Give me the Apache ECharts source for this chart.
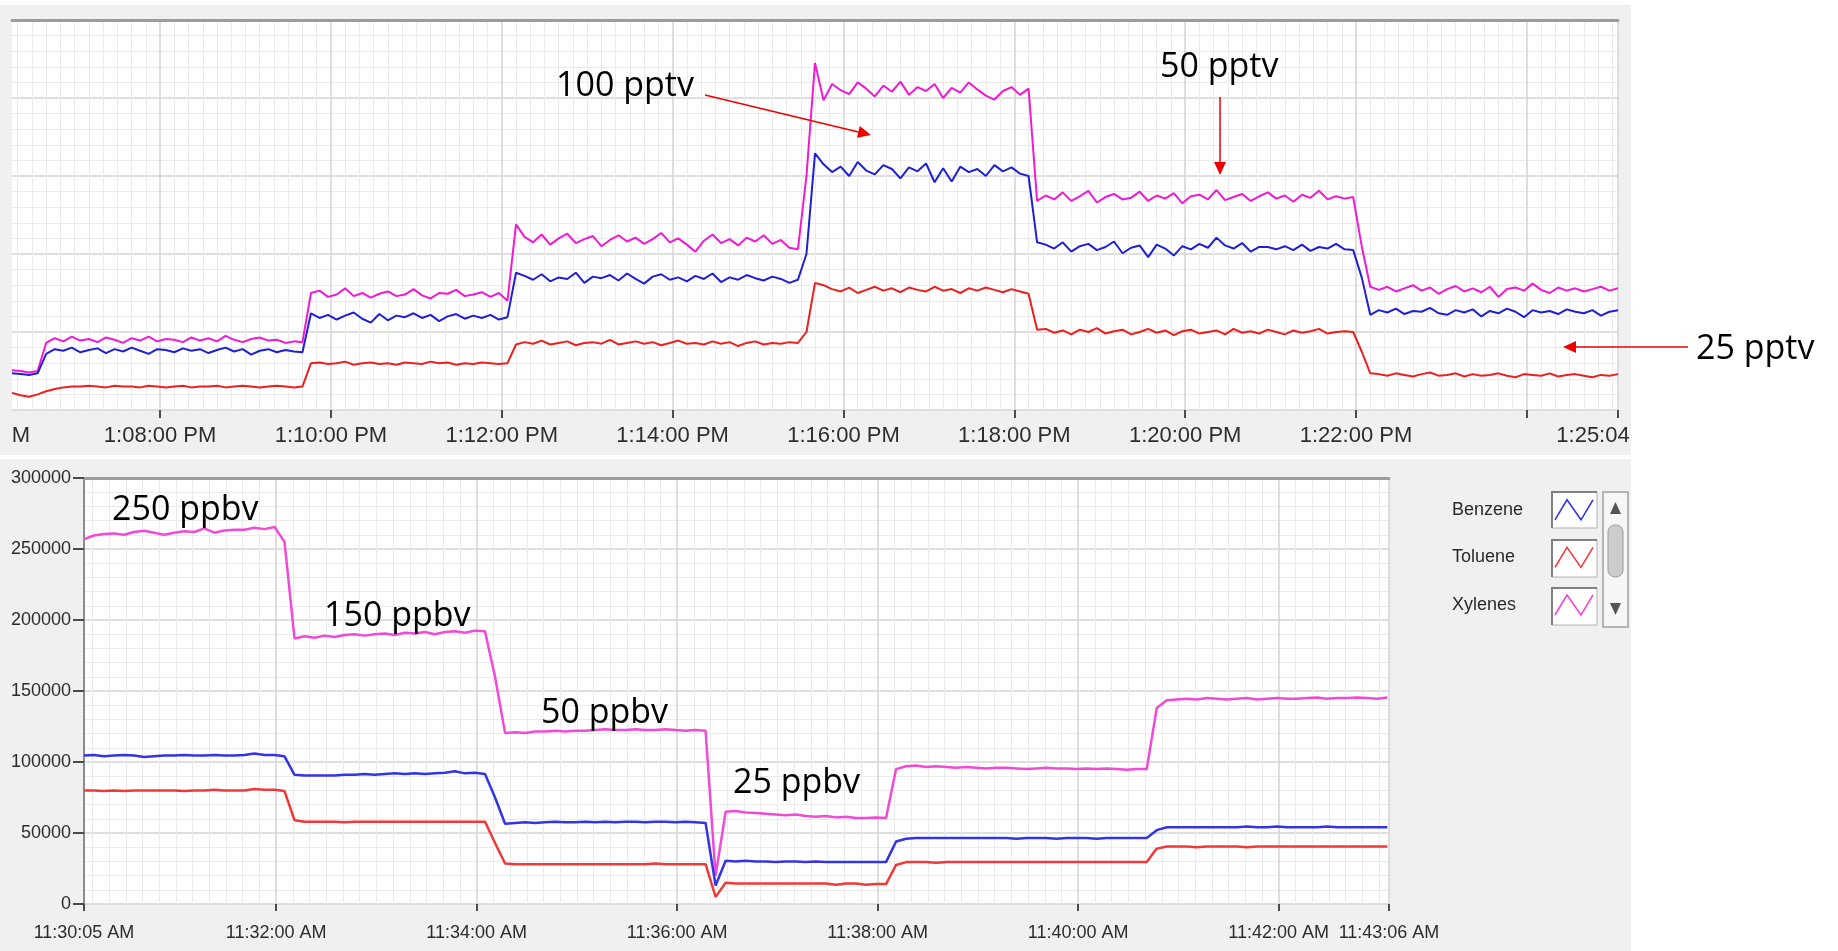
<!DOCTYPE html>
<html><head><meta charset="utf-8">
<script src="https://cdn.jsdelivr.net/npm/echarts@6/dist/echarts.min.js"></script>
<style>html,body{margin:0;padding:0;background:#fff}#chart{width:1838px;height:951px}</style>
</head><body><div id="chart"></div>
<script>
// ---------- TOP PANEL (pptv, arbitrary signal units, no y labels) ----------
const topStart = '13:06:16';
const topEnd = '13:25:04';
const topStepSec = 6;
const topTickTimes = ['13:08:00','13:10:00','13:12:00','13:14:00','13:16:00','13:18:00','13:20:00','13:22:00','13:24:00','13:25:04'];
const topLabelTimes = ['13:06:16','13:08:00','13:10:00','13:12:00','13:14:00','13:16:00','13:18:00','13:20:00','13:22:00','13:25:04'];
const topLabelTexts = ['M','1:08:00 PM','1:10:00 PM','1:12:00 PM','1:14:00 PM','1:16:00 PM','1:18:00 PM','1:20:00 PM','1:22:00 PM','1:25:04'];

const topXylenes = [51,50,48,50, 86,
 92,88,94,89,91,87,93,90,86,92, 89,94,88,91,90,87,93,89,92,88, 95,90,87,91,93,89,90,86,88,87,
 150,153,145,148,156,146,150,144,149,152, 146,148,155,147,143,150,149,154,146,148, 151,145,150,140,
 238,
 222,215,225,212,220,226,214,219,223,210, 218,224,216,221,213,219,227,215,220,212, 203,217,225,214,219,211,221,216,224,213, 218,208,206,
 300, 445,
 397,418,410,405,420,412,402,416,408,421, 404,414,409,418,400,413,407,420,411,403, 398,409,414,404,412,
 268,
 275,270,279,268,274,281,266,273,277,270, 272,280,268,275,271,278,265,274,276,270, 282,269,273,277,268,274,279,271,275,267, 276,272,281,270,274,271,273,
 210, 158,
 154,158,152,156,160,153,157,149,155,159, 152,156,151,158,145,155,157,153,162,154, 150,157,153,156,152,155,158,153,156];

const topBenzene = [47,46,45,47, 72,
 78,76,80,74,77,79,73,78,75,80, 76,72,78,77,74,79,76,78,73,77, 80,75,78,71,76,78,74,77,75,74,
 124,118,122,116,121,125,117,112,123,115, 121,119,124,118,122,114,120,123,117,121, 118,122,116,119,
 176,
 172,167,174,165,170,168,176,163,171,169, 173,166,175,168,162,171,174,167,170,165, 172,168,175,164,170,167,173,169,166,171, 168,163,167,
 200, 329,
 315,305,312,300,318,307,302,314,309,297, 311,306,316,292,310,293,312,305,309,300, 314,306,311,303,300,
 215,
 212,207,215,203,210,213,205,209,216,201, 208,211,196,212,207,198,210,206,213,208, 221,211,207,214,203,209,209,206,210,205, 212,204,209,207,213,206,205,
 170, 122,
 128,125,130,123,127,126,131,124,122,128, 125,129,120,127,124,130,126,119,128,125, 127,123,129,126,124,128,121,126,128];

const topToluene = [22,19,17,20, 24,
 27,29,30,30,31,30,29,31,30,30, 29,31,30,29,30,31,29,30,30,31, 29,30,31,30,29,30,31,30,29,30,
 60,61,59,60,62,58,60,61,59,60, 58,61,60,59,62,60,61,58,60,59, 61,60,59,60,
 84,
 87,85,89,84,86,88,83,86,87,85, 90,84,86,88,85,87,83,86,89,85, 86,84,88,85,87,82,86,88,84,86, 85,87,86,
 100, 163,
 160,155,152,157,150,154,158,153,156,151, 157,154,152,158,153,155,150,156,153,157, 154,151,155,152,149,
 103,
 104,99,102,97,103,100,105,98,101,103, 97,100,104,99,102,96,101,103,98,100, 102,97,104,99,101,98,103,100,97,102, 99,101,104,98,100,101,100,
 75, 47,
 46,44,47,45,43,46,48,44,45,47, 43,46,44,45,47,44,42,46,45,44, 47,43,45,46,44,42,45,44,46];

// ---------- BOTTOM PANEL (ppbv signal) ----------
const botStart = '11:30:05';
const botEnd = '11:43:06';
const botStepSec = 6;
const botTickTimes = ['11:30:05','11:32:00','11:34:00','11:36:00','11:38:00','11:40:00','11:42:00','11:43:06'];
const botLabelTexts = ['11:30:05 AM','11:32:00 AM','11:34:00 AM','11:36:00 AM','11:38:00 AM','11:40:00 AM','11:42:00 AM','11:43:06 AM'];

const botXylenes = [257000,259500,260500,261000,260000,262000,262800,261500,260000,261500, 262500,262000,264500,261500,263000,263500,263500,265000,264000,265500,
 255000,
 187000,188500,187500,189000,188000,189500,190000,189000,190000,190500, 189500,191000,190500,191500,190000,191500,192000,191000,192500,192000,
 160000,
 120500,121000,120500,121500,121500,122000,121500,122000,122000,122500, 123000,122500,122500,123000,122500,122500,123000,122500,122000,122500, 122000,
 20000,
 65000,65500,64500,64000,63500,63000,62500,63000,62000,61500, 62000,61000,61500,60500,60500,61000,60500,
 95000,
 97000,97500,96500,97000,96500,96000,96500,96000,95500,96000, 96000,95500,95000,95500,96000,95500,95500,95000,95500,95000, 95500,95000,94500,95000,95000,
 138000,
 143500,144000,144500,144000,145000,144500,144000,144500,145000,144000, 144500,145000,144500,144500,145000,145500,144500,145000,145000,145500, 145000,144500,145500];

const botBenzene = [104500,105000,104000,104500,105000,104500,103500,104000,104500,104500, 105000,104500,104500,105000,104500,104500,105000,106000,105000,105000,
 104000,
 91000,90500,90500,90500,90500,91000,91000,91500,91000,91500, 92000,91500,92000,91500,92000,92500,93500,92000,92500,91500,
 75000,
 56500,57000,57500,57000,57500,58000,57500,57500,58000,57500, 58000,57500,58000,58000,57500,58000,58000,57500,58000,57500, 57000,
 13000,
 30500,30000,30500,30000,30000,29500,30000,30000,29500,30000, 29500,29500,29500,29500,29500,29500,29500,
 44000,
 46000,46500,46500,46500,46500,46500,46500,46500,46500,46500, 46500,46000,46500,46500,46500,46000,46500,46500,46500,46000, 46500,46500,46500,46500,46500,
 52000,
 54000,54000,54000,54000,54000,54000,54000,54000,54500,54000, 54000,54500,54000,54000,54000,54000,54500,54000,54000,54000, 54000,54000,54000];

const botToluene = [80000,80000,79500,80000,79500,80000,80000,80000,80000,80000, 79500,80000,80000,80500,80000,80000,80000,81000,80500,80500,
 79500,
 59000,58000,58000,58000,58000,57500,58000,58000,58000,58000, 58000,58000,58000,58000,58000,58000,58000,58000,58000,58000,
 43000,
 28500,28000,28000,28000,28000,28000,28000,28000,28000,28000, 28000,28000,28000,28000,28000,28500,28000,28000,28000,28000, 28000,
 5000,
 15000,14500,14500,14500,14500,14500,14500,14500,14500,14500, 14500,13500,14500,14500,13500,14000,14000,
 27500,
 29500,29500,29500,29000,29500,29500,29500,29500,29500,29500, 29500,29500,29500,29500,29500,29500,29500,29500,29500,29500, 29500,29500,29500,29500,29500,
 39000,
 40500,40500,40500,40000,40500,40500,40500,40500,40000,40500, 40500,40500,40500,40500,40500,40500,40500,40500,40500,40500, 40500,40500,40500];

const seriesNames = ['Benzene', 'Toluene', 'Xylenes'];

// ---------- helpers ----------
function toSec(s){ const p = s.split(':').map(Number); return p[0]*3600 + p[1]*60 + p[2]; }
function pairs(startStr, step, arr){ const s0 = toSec(startStr); return arr.map((v, i) => [s0 + i*step, v]); }

const topMin = toSec(topStart), topMax = toSec(topEnd);
const botMin = toSec(botStart), botMax = toSec(botEnd);
const topTickSecs = topTickTimes.map(toSec);
const topLabelSecs = topLabelTimes.map(toSec);
const botTickSecs = botTickTimes.map(toSec);
function minorList(a, b){ const out=[]; for (let s = Math.ceil(a/10)*10; s < b; s += 10) { if (s % 120 !== 0 && s > a) out.push(s); } return out; }
const topMinor = minorList(topMin, topMax);
const botMinor = minorList(botMin, botMax);

const LBL = '#2c2c2c';
const FONT_W = "'Liberation Sans', Arial, sans-serif";
const MAJ = '#d4d4d4', MIN = '#ebebeb';

const topColors = {Benzene:'#1f1fd6', Toluene:'#ee1f1f', Xylenes:'#f01ad2'};
const botColors = {Benzene:'#3434e6', Toluene:'#f03a3a', Xylenes:'#f04ad6'};
const zig = 'path://M0,20 L12,0 L26,20 L38,0';

const chart = echarts.init(document.getElementById('chart'), null, {renderer:'canvas'});

function arrow(x1,y1,x2,y2){
  const dx=x2-x1, dy=y2-y1, L=Math.sqrt(dx*dx+dy*dy), ux=dx/L, uy=dy/L;
  const hl=13, hw=6;
  const bx=x2-ux*hl, by=y2-uy*hl;
  return [
    {type:'line', z:50, shape:{x1:x1,y1:y1,x2:bx,y2:by}, style:{stroke:'#ee0000', lineWidth:1.5}},
    {type:'polygon', z:50, shape:{points:[[x2,y2],[bx-uy*hw,by+ux*hw],[bx+uy*hw,by-ux*hw]]}, style:{fill:'#ee0000'}}
  ];
}
function annot(text, x, y){
  return {type:'text', z:50, x:x, y:y, style:{text:text, fill:'#000', font:"34px 'Open Sans', 'Noto Sans', sans-serif", verticalAlign:'middle', align:'left'}};
}

const graphics = [
  {type:'rect', z:-10, shape:{x:0,y:5,width:1631,height:450}, style:{fill:'#f0f0f0'}},
  {type:'rect', z:-10, shape:{x:0,y:459,width:1631,height:492}, style:{fill:'#f0f0f0'}},
  {type:'rect', z:1, shape:{x:1552,y:492,width:45,height:36}, style:{fill:'#fff', stroke:'#b0b0b0', lineWidth:1}},
  {type:'rect', z:1, shape:{x:1552,y:540,width:45,height:37}, style:{fill:'#fff', stroke:'#b0b0b0', lineWidth:1}},
  {type:'rect', z:1, shape:{x:1552,y:588,width:45,height:37}, style:{fill:'#fff', stroke:'#b0b0b0', lineWidth:1}},
  {type:'polyline', z:1, shape:{points:[[1552,528],[1552,492],[1597,492]]}, style:{stroke:'#808080', lineWidth:2, fill:null}},
  {type:'polyline', z:1, shape:{points:[[1552,577],[1552,540],[1597,540]]}, style:{stroke:'#808080', lineWidth:2, fill:null}},
  {type:'polyline', z:1, shape:{points:[[1552,625],[1552,588],[1597,588]]}, style:{stroke:'#808080', lineWidth:2, fill:null}},
  {type:'rect', z:1, shape:{x:1603,y:492,width:25,height:135}, style:{fill:'#f6f6f6', stroke:'#a0a0a0', lineWidth:1.5}},
  {type:'rect', z:2, shape:{x:1608,y:525,width:15,height:52,r:7}, style:{fill:'#cdcdcd', stroke:'#9a9a9a', lineWidth:1}},
  {type:'polygon', z:2, shape:{points:[[1610,514],[1621,514],[1615.5,502]]}, style:{fill:'#555'}},
  {type:'polygon', z:2, shape:{points:[[1610,603],[1621,603],[1615.5,615]]}, style:{fill:'#555'}},
  annot('100 pptv', 556, 86),
  annot('50 pptv', 1160, 67),
  annot('25 pptv', 1696, 349),
  annot('250 ppbv', 112, 510),
  annot('150 ppbv', 324, 616),
  annot('50 ppbv', 541, 713),
  annot('25 ppbv', 733, 783)
].concat(arrow(705,95,871,135), arrow(1220,97,1220,175), arrow(1688,347,1563,347));

const option = {
  animation: false,
  backgroundColor: '#ffffff',
  graphic: graphics,
  legend: {
    left: 1452, top: 499, padding: 0, orient: 'vertical', align: 'right',
    itemWidth: 38, itemHeight: 22, itemGap: 26, selectedMode: false,
    formatter: n => '{n|' + n + '}',
    textStyle: {rich: {n: {width: 98, align: 'left', fontFamily: FONT_W, fontSize: 18, color: '#2a2a2a'}}},
    data: seriesNames.map(n => ({name: n, icon: zig, itemStyle: {color: 'rgba(0,0,0,0)', borderColor: botColors[n], borderWidth: 1.6}}))
  },
  grid: [
    {left: 12, top: 20, width: 1606, height: 390, show: true, backgroundColor: '#fff', borderWidth: 0, containLabel: false, outerBoundsMode: 'none'},
    {left: 84, top: 478, width: 1305, height: 426, show: true, backgroundColor: '#fff', borderWidth: 0, containLabel: false, outerBoundsMode: 'none'}
  ],
  xAxis: [
    {type: 'value', gridIndex: 0, min: topMin, max: topMax, position: 'bottom', offset: 3,
     axisLine: {show: false},
     axisTick: {show: true, customValues: topTickSecs, length: 8, lineStyle: {color: '#4a4a4a', width: 2}},
     axisLabel: {customValues: topLabelSecs, margin: 12, fontFamily: FONT_W, fontSize: 22, color: LBL, hideOverlap: false,
       formatter: v => { const i = topLabelSecs.indexOf(v); const t = topLabelTexts[i] || '';
         if (i === 0) return '{first|' + t + '}'; if (i === topLabelSecs.length - 1) return '{last|' + t + '}'; return t; },
       rich: {first: {padding: [0,0,0,18], fontFamily: FONT_W, fontSize: 22, color: LBL},
              last: {padding: [0,50,0,0], fontFamily: FONT_W, fontSize: 22, color: LBL}}},
     splitLine: {show: true, customValues: topTickSecs, lineStyle: {color: MAJ, width: 1.5}}},
    {type: 'value', gridIndex: 0, min: topMin, max: topMax, position: 'top',
     axisLine: {show: true, lineStyle: {color: '#9c9c9c', width: 3}},
     axisTick: {show: false, customValues: topMinor},
     axisLabel: {show: false, customValues: topMinor},
     splitLine: {show: true, customValues: topMinor, lineStyle: {color: MIN, width: 1}}},
    {type: 'value', gridIndex: 1, min: botMin, max: botMax, position: 'bottom', offset: 8,
     axisLine: {show: false},
     axisTick: {show: true, customValues: botTickSecs, length: 7, lineStyle: {color: '#4a4a4a', width: 2}},
     axisLabel: {customValues: botTickSecs, margin: 12, fontFamily: FONT_W, fontSize: 18, color: LBL, hideOverlap: false,
       showMinLabel: true, showMaxLabel: true,
       formatter: v => botLabelTexts[botTickSecs.indexOf(v)] || ''},
     splitLine: {show: true, customValues: botTickSecs, lineStyle: {color: MAJ, width: 1.5}}},
    {type: 'value', gridIndex: 1, min: botMin, max: botMax, position: 'top',
     axisLine: {show: true, lineStyle: {color: '#9c9c9c', width: 3}},
     axisTick: {show: false, customValues: botMinor},
     axisLabel: {show: false, customValues: botMinor},
     splitLine: {show: true, customValues: botMinor, lineStyle: {color: MIN, width: 1}}}
  ],
  yAxis: [
    {type: 'value', gridIndex: 0, min: 0, max: 500, interval: 100,
     axisLine: {show: false}, axisTick: {show: false}, axisLabel: {show: false},
     splitLine: {show: true, lineStyle: {color: MAJ, width: 1.5}},
     minorTick: {show: false, splitNumber: 5},
     minorSplitLine: {show: true, lineStyle: {color: MIN, width: 1}}},
    {type: 'value', gridIndex: 1, min: 0, max: 300000, interval: 50000,
     axisLine: {show: true, lineStyle: {color: '#8c8c8c', width: 2}},
     axisTick: {show: true, inside: false, length: 11, lineStyle: {color: '#4a4a4a', width: 2}},
     axisLabel: {margin: 13, fontFamily: FONT_W, fontSize: 18, color: LBL, formatter: v => String(v)},
     splitLine: {show: true, lineStyle: {color: MAJ, width: 1.5}},
     minorTick: {show: false, splitNumber: 5},
     minorSplitLine: {show: true, lineStyle: {color: MIN, width: 1}}}
  ],
  series: [
    {name: 'Xylenes (pptv)', type: 'line', xAxisIndex: 0, yAxisIndex: 0, showSymbol: false, symbol: 'none',
     lineStyle: {color: topColors.Xylenes, width: 2}, itemStyle: {color: topColors.Xylenes}, data: pairs(topStart, topStepSec, topXylenes)},
    {name: 'Benzene (pptv)', type: 'line', xAxisIndex: 0, yAxisIndex: 0, showSymbol: false, symbol: 'none',
     lineStyle: {color: topColors.Benzene, width: 2}, itemStyle: {color: topColors.Benzene}, data: pairs(topStart, topStepSec, topBenzene)},
    {name: 'Toluene (pptv)', type: 'line', xAxisIndex: 0, yAxisIndex: 0, showSymbol: false, symbol: 'none',
     lineStyle: {color: topColors.Toluene, width: 2}, itemStyle: {color: topColors.Toluene}, data: pairs(topStart, topStepSec, topToluene)},
    {name: 'Xylenes', type: 'line', xAxisIndex: 2, yAxisIndex: 1, showSymbol: false, symbol: 'none',
     lineStyle: {color: botColors.Xylenes, width: 2.5}, itemStyle: {color: botColors.Xylenes}, data: pairs(botStart, botStepSec, botXylenes)},
    {name: 'Benzene', type: 'line', xAxisIndex: 2, yAxisIndex: 1, showSymbol: false, symbol: 'none',
     lineStyle: {color: botColors.Benzene, width: 2.5}, itemStyle: {color: botColors.Benzene}, data: pairs(botStart, botStepSec, botBenzene)},
    {name: 'Toluene', type: 'line', xAxisIndex: 2, yAxisIndex: 1, showSymbol: false, symbol: 'none',
     lineStyle: {color: botColors.Toluene, width: 2.5}, itemStyle: {color: botColors.Toluene}, data: pairs(botStart, botStepSec, botToluene)}
  ]
};
chart.setOption(option);
</script>
</body></html>
